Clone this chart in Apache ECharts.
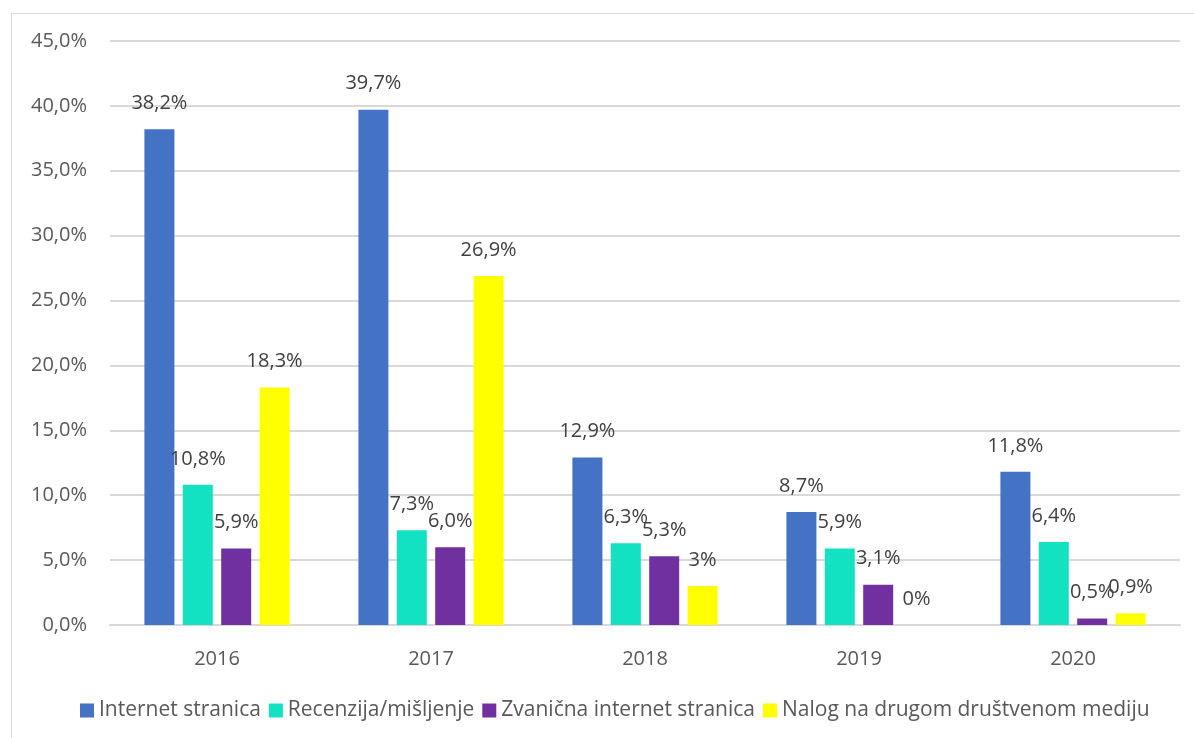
<!DOCTYPE html>
<html>
<head>
<meta charset="utf-8">
<script src="https://cdn.jsdelivr.net/npm/echarts@6/dist/echarts.min.js"></script>
<style>
  html, body { margin: 0; padding: 0; background: #fff; }
  #frame { position: absolute; left: 11px; top: 13px; right: -5px; bottom: -5px; border-left: 1px solid #d9d9d9; border-top: 1px solid #d9d9d9; }
  #chart { position: absolute; left: 0; top: 0; width: 1194px; height: 738px; }
</style>
</head>
<body>
<div id="frame"></div>
<div id="chart"></div>
<script>
const years = ['2016', '2017', '2018', '2019', '2020'];
const seriesNames = ['Internet stranica', 'Recenzija/mišljenje', 'Zvanična internet stranica', 'Nalog na drugom društvenom mediju'];
const internetStranica = [38.2, 39.7, 12.9, 8.7, 11.8];
const recenzija = [10.8, 7.3, 6.3, 5.9, 6.4];
const zvanicna = [5.9, 6.0, 5.3, 3.1, 0.5];
const nalog = [18.3, 26.9, 3, 0, 0.9];
const nalogLabels = ['18,3%', '26,9%', '3%', '0%', '0,9%'];
const colors = ['#4472C4', '#12E2C1', '#7030A0', '#FFFF00'];

const fmt = v => v.toFixed(1).replace('.', ',') + '%';
const FONT = '"Open Sans", sans-serif';

const chart = echarts.init(document.getElementById('chart'));

const makeSeries = (name, data, color, labels) => ({
  name: name,
  type: 'bar',
  data: data,
  barWidth: 30,
  barGap: '28%',
  itemStyle: { color: color },
  label: {
    show: true,
    position: 'top',
    distance: 16,
    fontFamily: FONT,
    fontSize: 20,
    color: '#404040',
    formatter: p => labels ? labels[p.dataIndex] : fmt(p.value),
  },
});

chart.setOption({
  animation: false,
  textStyle: { fontFamily: FONT },
  grid: { left: 110, right: 14, top: 41, bottom: 113 },
  legend: {
    left: 80,
    top: 700,
    padding: 0,
    itemWidth: 14,
    itemHeight: 14,
    itemGap: 8,
    icon: 'rect',
    textStyle: { fontFamily: FONT, fontSize: 21, color: '#595959' },
    data: seriesNames,
  },
  xAxis: {
    type: 'category',
    data: years,
    axisLine: { lineStyle: { color: '#d9d9d9', width: 2 } },
    axisTick: { show: false },
    axisLabel: { fontFamily: FONT, fontSize: 20, color: '#595959', margin: 24 },
  },
  yAxis: {
    type: 'value',
    min: 0,
    max: 45,
    interval: 5,
    axisLine: { show: false },
    axisTick: { show: false },
    splitLine: { lineStyle: { color: '#d9d9d9', width: 2 } },
    axisLabel: { fontFamily: FONT, fontSize: 20, color: '#595959', margin: 23, formatter: fmt },
  },
  series: [
    makeSeries(seriesNames[0], internetStranica, colors[0]),
    makeSeries(seriesNames[1], recenzija, colors[1]),
    makeSeries(seriesNames[2], zvanicna, colors[2]),
    makeSeries(seriesNames[3], nalog, colors[3], nalogLabels),
  ],
});
</script>
</body>
</html>
